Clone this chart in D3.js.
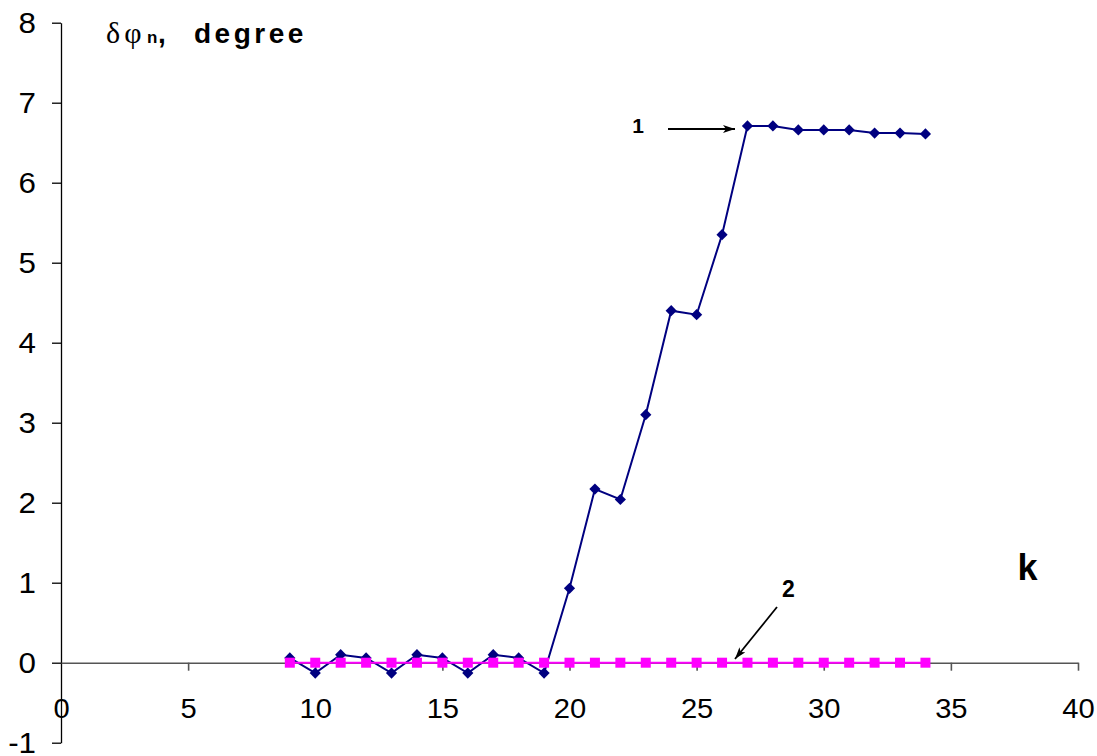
<!DOCTYPE html>
<html><head><meta charset="utf-8">
<script src="https://cdn.jsdelivr.net/npm/d3@7"></script>
<style>body{margin:0;background:#fff}</style>
</head><body>
<script>
const kValues = [9,10,11,12,13,14,15,16,17,18,19,20,21,22,23,24,25,26,27,28,29,30,31,32,33,34];
const series1 = [0.06,-0.13,0.1,0.06,-0.13,0.1,0.06,-0.13,0.1,0.06,-0.13,0.93,2.17,2.04,3.1,4.4,4.35,5.35,6.71,6.71,6.66,6.66,6.66,6.62,6.62,6.61];
const series2 = [0,0,0,0,0,0,0,0,0,0,0,0,0,0,0,0,0,0,0,0,0,0,0,0,0,0];
const xTicks = [0,5,10,15,20,25,30,35,40];
const yTicks = [-1,0,1,2,3,4,5,6,7,8];

const W = 1097, H = 756;
const svg = d3.select("body").append("svg").attr("width", W).attr("height", H);
const x = d3.scaleLinear().domain([0,40]).range([61,1078]);
const y = d3.scaleLinear().domain([-1,8]).range([742.7,22.7]);
const font = "'Liberation Sans', Arial, sans-serif";

// Y axis
const yAxis = svg.append("g").attr("transform", `translate(${x(0)},0)`)
  .call(d3.axisLeft(y).tickValues(yTicks).tickSize(9).tickPadding(16).tickSizeOuter(0).tickFormat(d3.format("d")));
yAxis.select(".domain").attr("stroke", "#000").attr("stroke-width", 1.3);
yAxis.selectAll(".tick line").attr("stroke", "#000").attr("stroke-width", 1.3);
yAxis.selectAll("text").attr("font-family", font).attr("font-size", 29).attr("fill", "#000")
  .attr("x", 0).attr("transform", "translate(-25,0) scale(1.08,1)")
  .attr("dy", "0.35em")
  .text(d => d < 0 ? "-" + Math.abs(d) : d);

// X axis at y=0
const xAxis = svg.append("g").attr("transform", `translate(0,${y(0)})`)
  .call(d3.axisBottom(x).tickValues(xTicks).tickSize(8).tickPadding(28).tickSizeOuter(0));
xAxis.select(".domain").attr("stroke", "#555").attr("stroke-width", 1.6);
xAxis.selectAll(".tick line").attr("stroke", "#555").attr("stroke-width", 1.6);
xAxis.selectAll(".tick").filter(d => d === 0).select("line").remove();
xAxis.selectAll("text").attr("font-family", font).attr("font-size", 27).attr("fill", "#000")
  .attr("transform", "scale(1.08,1)");

// Series 1
const line = d3.line().x((d,i) => x(kValues[i])).y(d => y(d));
svg.append("path").datum(series1).attr("d", line).attr("fill", "none")
  .attr("stroke", "#000080").attr("stroke-width", 2);
svg.append("g").selectAll("path").data(series1).join("path")
  .attr("d", d3.symbol(d3.symbolDiamond2, 80))
  .attr("transform", (d,i) => `translate(${x(kValues[i])},${y(d)})`)
  .attr("fill", "#000080");

// Series 2
svg.append("path").datum(series2).attr("d", line).attr("fill", "none")
  .attr("stroke", "#ff00ff").attr("stroke-width", 2);
svg.append("g").selectAll("rect").data(series2).join("rect")
  .attr("x", (d,i) => x(kValues[i]) - 5).attr("y", d => y(d) - 5)
  .attr("width", 10).attr("height", 10).attr("fill", "#ff00ff");

// Arrow marker
svg.append("defs").append("marker").attr("id", "arr").attr("viewBox", "0 0 12 8")
  .attr("refX", 12).attr("refY", 4).attr("markerWidth", 12).attr("markerHeight", 8)
  .attr("markerUnits", "userSpaceOnUse").attr("orient", "auto")
  .append("path").attr("d", "M0,0 L12,4 L0,8 L3,4 z").attr("fill", "#000");
svg.append("line").attr("x1", 668).attr("y1", 129).attr("x2", 735).attr("y2", 129)
  .attr("stroke", "#000").attr("stroke-width", 1.8).attr("marker-end", "url(#arr)");
svg.append("line").attr("x1", 777).attr("y1", 607).attr("x2", 735).attr("y2", 659)
  .attr("stroke", "#000").attr("stroke-width", 1.8).attr("marker-end", "url(#arr)");

// Labels
svg.append("text").attr("x", 638).attr("y", 133).attr("text-anchor", "middle")
  .attr("font-family", font).attr("font-weight", "bold").attr("font-size", 21).text("1");
svg.append("text").attr("x", 788.5).attr("y", 597).attr("text-anchor", "middle")
  .attr("font-family", "'Liberation Sans Narrow', 'Liberation Sans', Arial, sans-serif")
  .attr("font-weight", "bold").attr("font-size", 23).text("2");
svg.append("text").attr("x", 1027.5).attr("y", 580).attr("text-anchor", "middle")
  .attr("font-family", font).attr("font-weight", "bold").attr("font-size", 36).text("k");

const t = svg.append("text").attr("y", 43);
t.append("tspan").attr("x", 106).attr("font-family", "'Liberation Serif', 'Times New Roman', serif")
  .attr("font-size", 30).attr("letter-spacing", 4).text("δφ");
t.append("tspan").attr("x", 147).attr("font-family", font).attr("font-weight", "bold").attr("font-size", 17).text("n");
t.append("tspan").attr("x", 158).attr("font-family", font).attr("font-weight", "bold").attr("font-size", 28).text(",");
t.append("tspan").attr("x", 194).attr("font-family", font).attr("font-weight", "bold").attr("font-size", 28)
  .attr("letter-spacing", 3.5).text("degree");
</script>
</body></html>
